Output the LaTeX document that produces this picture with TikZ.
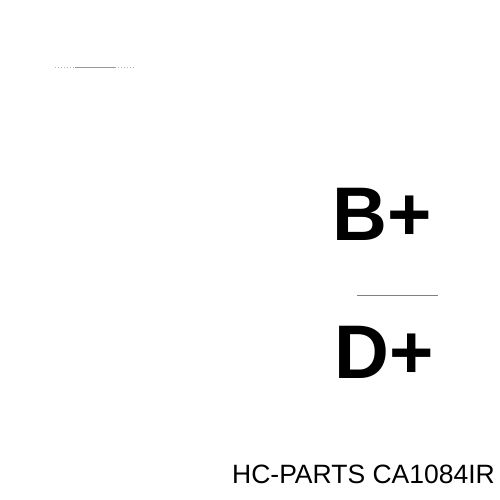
\documentclass[tikz,border=0pt]{standalone}
\usepackage{fontspec}
\setmainfont{Liberation Sans}
\begin{document}
\begin{tikzpicture}[x=1pt,y=-1pt,
  big/.style={font=\fontsize{76}{76}\selectfont\bfseries, inner sep=0pt, anchor=base west},
  captext/.style={font=\fontsize{26.5}{26.5}\selectfont, inner sep=0pt, anchor=base east},
  rule/.style={line width=1pt}]
\useasboundingbox[fill=white] (0,0) rectangle (500,500);
\coordinate (t1) at (55,68); \coordinate (t2) at (135,68);
\draw[rule, gray!60, dotted] (t1) -- (t2);
\draw[rule, gray!80] (75,68) -- (115,68);
\node[big] (bp) at (332,240) {B+};
\coordinate (l1) at (357,295); \coordinate (l2) at (438,295);
\draw[rule, gray] (l1) -- (l2);
\node[big] (dp) at (334,378) {D+};
\node[captext] (hc) at (495,483) {HC-PARTS CA1084IR};
\end{tikzpicture}
\end{document}
